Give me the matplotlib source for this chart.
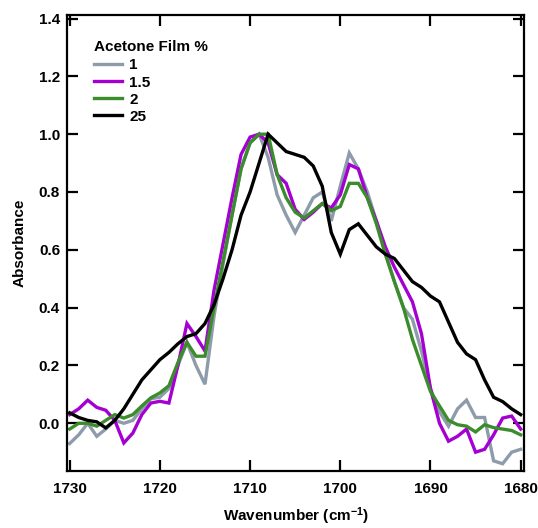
import matplotlib
matplotlib.use("Agg")
import matplotlib.pyplot as plt
import numpy as np

plt.rcParams['font.family'] = ['Liberation Sans', 'DejaVu Sans']
plt.rcParams['font.weight'] = 'bold'
plt.rcParams['mathtext.fontset'] = 'custom'
plt.rcParams['mathtext.rm'] = 'Liberation Sans:bold'
plt.rcParams['mathtext.bf'] = 'Liberation Sans:bold'
plt.rcParams['mathtext.default'] = 'bf'

wavenumber = list(range(1730, 1679, -1))

film_1 = [-0.07, -0.04, 0.00, -0.045, -0.02, 0.01, 0.00, 0.01, 0.05, 0.085,
          0.09, 0.12, 0.20, 0.28, 0.20, 0.135, 0.37, 0.55, 0.72, 0.88,
          0.97, 1.00, 0.92, 0.79, 0.72, 0.66, 0.72, 0.78, 0.80, 0.70,
          0.82, 0.935, 0.88, 0.80, 0.70, 0.59, 0.49, 0.40, 0.36, 0.25,
          0.12, 0.04, -0.01, 0.05, 0.08, 0.02, 0.02, -0.13, -0.14, -0.10,
          -0.09]

film_1_5 = [0.03, 0.05, 0.08, 0.055, 0.045, 0.01, -0.068, -0.034, 0.03, 0.07,
            0.076, 0.07, 0.20, 0.345, 0.30, 0.25, 0.46, 0.62, 0.78, 0.93,
            0.99, 1.00, 0.97, 0.86, 0.83, 0.74, 0.705, 0.73, 0.76, 0.745,
            0.79, 0.895, 0.88, 0.78, 0.70, 0.61, 0.54, 0.48, 0.42, 0.31,
            0.12, 0.00, -0.062, -0.045, -0.02, -0.10, -0.09, -0.04, 0.018, 0.025,
            -0.02]

film_2 = [-0.02, 0.00, 0.00, -0.01, 0.01, 0.03, 0.018, 0.03, 0.06, 0.088,
          0.105, 0.13, 0.21, 0.28, 0.232, 0.232, 0.40, 0.56, 0.72, 0.88,
          0.97, 1.00, 1.00, 0.86, 0.78, 0.73, 0.71, 0.735, 0.76, 0.735,
          0.75, 0.83, 0.83, 0.78, 0.69, 0.584, 0.49, 0.40, 0.29, 0.20,
          0.11, 0.06, 0.01, -0.005, -0.01, -0.03, -0.005, -0.015, -0.02, -0.025,
          -0.04]

film_25 = [0.036, 0.02, 0.01, 0.005, -0.016, 0.01, 0.05, 0.10, 0.15, 0.185,
           0.22, 0.245, 0.275, 0.30, 0.31, 0.345, 0.41, 0.50, 0.60, 0.72,
           0.80, 0.90, 1.00, 0.97, 0.94, 0.93, 0.92, 0.89, 0.82, 0.66,
           0.585, 0.67, 0.69, 0.65, 0.61, 0.585, 0.57, 0.53, 0.49, 0.47,
           0.44, 0.42, 0.35, 0.28, 0.24, 0.22, 0.15, 0.09, 0.075, 0.05,
           0.03]

series = [("1", film_1, "#8e9bab"),
          ("1.5", film_1_5, "#a500d2"),
          ("2", film_2, "#3b8d2b"),
          ("25", film_25, "#000000")]

fig = plt.figure(figsize=(5.38, 5.28), dpi=100)
ax = fig.add_axes([0.1245, 0.108, 0.850, 0.864])

for label, values, color in series:
    ax.plot(wavenumber, values, color=color, lw=2.4, label=label,
            solid_joinstyle='miter')

ax.set_xlim(1730.3, 1679.6)
ax.set_ylim(-0.165, 1.413)
ax.set_xticks([1730, 1720, 1710, 1700, 1690, 1680])
ax.set_yticks([0.0, 0.2, 0.4, 0.6, 0.8, 1.0, 1.2, 1.4])
ax.yaxis.set_major_formatter(matplotlib.ticker.FormatStrFormatter('%.1f'))

for sp in ax.spines.values():
    sp.set_linewidth(1.6)
ax.tick_params(direction='in', length=8, width=1.6, labelsize=11,
               top=True, right=True)
ax.tick_params(axis='x', pad=8)
ax.tick_params(axis='y', pad=5)

ax.set_xlabel(r'Wavenumber (cm$^{-1}$)', fontsize=11, fontweight='bold',
              labelpad=7)
ax.set_ylabel('Absorbance', fontsize=11, fontweight='bold', labelpad=9)

leg = ax.legend(title='Acetone Film %', loc='upper left',
                bbox_to_anchor=(0.058, 0.944), frameon=False,
                fontsize=11, title_fontsize=11, handlelength=1.85,
                handletextpad=0.5, labelspacing=0.2, borderaxespad=0,
                borderpad=0, alignment='left')
leg.get_title().set_fontweight('bold')
leg._legend_box.sep = 3

fig.savefig('out.png', dpi=100)
